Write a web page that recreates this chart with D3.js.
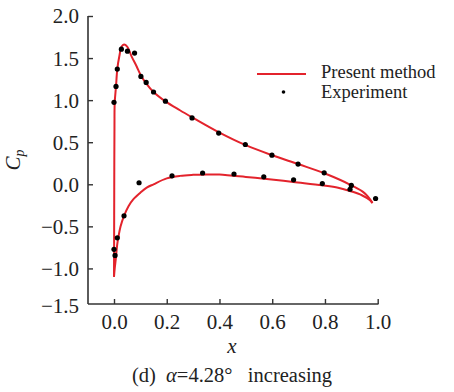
<!DOCTYPE html>
<html><head><meta charset="utf-8">
<script src="https://cdn.jsdelivr.net/npm/d3@7"></script>
<style>
html,body{margin:0;padding:0;background:#fff;}
svg{display:block;}
text{font-family:"Liberation Serif","Times New Roman",serif;fill:#222;white-space:pre;}
</style></head>
<body>
<svg id="chart" width="454" height="392"></svg>
<script>
// ---- data ----
const xTicks = [0.0, 0.2, 0.4, 0.6, 0.8, 1.0];
const yTicks = [-1.5, -1.0, -0.5, 0.0, 0.5, 1.0, 1.5, 2.0];

// Present method: upper-surface branch
const upperX = [0.0, 0.0004, 0.0008, 0.0012, 0.0018, 0.0027, 0.0076, 0.0125, 0.02, 0.029, 0.038, 0.05, 0.067, 0.086, 0.101, 0.122, 0.149, 0.195, 0.25, 0.3, 0.4, 0.5, 0.6, 0.7, 0.8, 0.9, 0.95, 0.98];
const upperY = [-1.10, -0.70, -0.20, 0.30, 0.70, 0.97, 1.163, 1.37, 1.518, 1.637, 1.66, 1.637, 1.518, 1.40, 1.30, 1.20, 1.10, 0.985, 0.88, 0.79, 0.615, 0.465, 0.345, 0.238, 0.128, -0.012, -0.105, -0.22];
// Present method: lower-surface branch
const lowerX = [0.0, 0.003, 0.0064, 0.012, 0.016, 0.025, 0.038, 0.055, 0.073, 0.1, 0.124, 0.15, 0.2, 0.25, 0.3, 0.35, 0.4, 0.45, 0.5, 0.57, 0.68, 0.79, 0.85, 0.894, 0.94, 0.971, 0.98];
const lowerY = [-1.10, -0.99, -0.90, -0.72, -0.64, -0.50, -0.375, -0.26, -0.18, -0.10, -0.04, 0.0, 0.07, 0.10, 0.112, 0.117, 0.115, 0.10, 0.088, 0.067, 0.027, -0.012, -0.04, -0.079, -0.13, -0.19, -0.225];

// Experiment
const expX = [0.0, 0.0076, 0.0125, 0.028, 0.051, 0.078, 0.102, 0.122, 0.150, 0.195, 0.296, 0.397, 0.498, 0.599, 0.698, 0.797, 0.900,
              0.0, 0.004, 0.0125, 0.038, 0.095, 0.220, 0.336, 0.455, 0.568, 0.681, 0.790, 0.895, 0.992];
const expY = [0.974, 1.163, 1.369, 1.606, 1.582, 1.559, 1.282, 1.211, 1.097, 0.988, 0.789, 0.609, 0.473, 0.346, 0.240, 0.136, -0.014,
              -0.773, -0.846, -0.636, -0.375, 0.018, 0.101, 0.134, 0.122, 0.089, 0.053, 0.008, -0.059, -0.169];

// ---- layout ----
const svg = d3.select("#chart");
const x = d3.scaleLinear().domain([-0.0986, 1.0]).range([88, 377.7]);
const y = d3.scaleLinear().domain([-1.5, 2.0]).range([310.5, 16]);
const axisY = 304;
const red = "#e3232c";
const fontF = "Liberation Serif, Times New Roman, serif";

// axes lines
svg.append("line").attr("x1", 88).attr("x2", 88).attr("y1", 16).attr("y2", axisY)
  .attr("stroke", "#333").attr("stroke-width", 1.6);
svg.append("line").attr("x1", 88).attr("x2", x(1.0) + 0.8).attr("y1", axisY).attr("y2", axisY)
  .attr("stroke", "#333").attr("stroke-width", 1.6);

// y axis ticks (inward)
const ya = svg.append("g").attr("transform", "translate(88,0)")
  .call(d3.axisRight(y).tickValues(yTicks).tickSize(5).tickSizeOuter(0).tickFormat(d3.format(".1f")));
ya.select(".domain").remove();
ya.selectAll(".tick line").attr("stroke", "#333").attr("stroke-width", 1.4)
  .attr("display", d => d === -1.5 ? "none" : null);
ya.selectAll(".tick text").attr("x", -9).attr("text-anchor", "end")
  .attr("font-size", 21).attr("font-family", fontF).attr("fill", "#222")
  .text(d => d < 0 ? "\u2212" + Math.abs(d).toFixed(1) : d.toFixed(1))
  .attr("dy", d => d === -1.5 ? "0.1em" : "0.33em");

// x axis ticks (inward)
const xa = svg.append("g").attr("transform", `translate(0,${axisY})`)
  .call(d3.axisTop(x).tickValues(xTicks).tickSize(5).tickSizeOuter(0).tickFormat(d3.format(".1f")));
xa.select(".domain").remove();
xa.selectAll(".tick line").attr("stroke", "#333").attr("stroke-width", 1.4);
xa.selectAll(".tick text").attr("y", 25).attr("dy", 0)
  .attr("font-size", 21).attr("font-family", fontF).attr("fill", "#222");

// curves
const line = d3.line().x(d => x(d[0])).y(d => y(d[1])).curve(d3.curveCatmullRom.alpha(0.5));
svg.append("path").datum(upperX.map((v, i) => [v, upperY[i]])).attr("d", line)
  .attr("fill", "none").attr("stroke", red).attr("stroke-width", 2);
svg.append("path").datum(lowerX.map((v, i) => [v, lowerY[i]])).attr("d", line)
  .attr("fill", "none").attr("stroke", red).attr("stroke-width", 2);

// experiment points
svg.append("g").selectAll("circle").data(expX.map((v, i) => [v, expY[i]])).join("circle")
  .attr("cx", d => x(d[0])).attr("cy", d => y(d[1])).attr("r", 2.6).attr("fill", "#000");

// axis labels
svg.append("text").attr("x", 232).attr("y", 353).attr("text-anchor", "middle")
  .attr("font-size", 21).attr("font-style", "italic").text("x");
const cp = svg.append("text").attr("transform", "translate(20,160) rotate(-90)")
  .attr("text-anchor", "middle").attr("font-size", 21).attr("font-style", "italic");
cp.append("tspan").text("C");
cp.append("tspan").attr("font-size", 14).attr("dy", 4).text("p");

// title
const t = svg.append("text").attr("x", 232).attr("y", 382).attr("text-anchor", "middle").attr("font-size", 20.5);
t.append("tspan").text("(d)  ");
t.append("tspan").attr("font-style", "italic").text("\u03b1");
t.append("tspan").text("=4.28\u00b0   increasing");

// legend
svg.append("line").attr("x1", 257).attr("x2", 306).attr("y1", 74).attr("y2", 74)
  .attr("stroke", red).attr("stroke-width", 2);
svg.append("text").attr("x", 321).attr("y", 78).attr("font-size", 18.5).text("Present method");
svg.append("circle").attr("cx", 283.5).attr("cy", 92).attr("r", 1.8).attr("fill", "#000");
svg.append("text").attr("x", 321).attr("y", 97.5).attr("font-size", 18.5).text("Experiment");
</script>
</body></html>
